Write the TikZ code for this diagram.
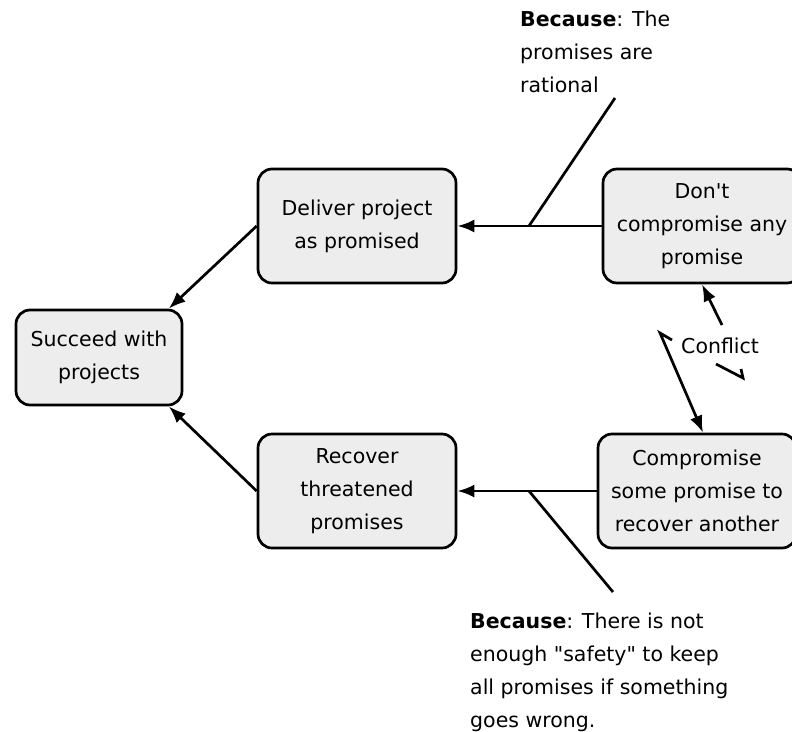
\documentclass[tikz,border=0pt]{standalone}
\usepackage{fontspec}
\setmainfont{DejaVu Sans}
\usetikzlibrary{arrows.meta,positioning}

\begin{document}
\begin{tikzpicture}[x=1pt,y=-1pt,
    box/.style={draw,line width=2.7pt,rounded corners=14pt,fill=black!7,align=center,
        minimum width=198pt,minimum height=114pt,font=\fontsize{20.5}{33}\selectfont},
    arrow/.style={line width=2.7pt,-{Latex[length=17pt,width=13pt]}},
    link/.style={line width=2.7pt},
    note/.style={align=left,inner sep=0pt,font=\fontsize{20.5}{33}\selectfont}]
        \useasboundingbox (0,0) rectangle (792,731);

        \node[box,minimum width=166pt,minimum height=95pt] (succeed) at (99,357.5) {Succeed with\\projects};
        \node[box] (deliver) at (357,226) {Deliver project\\as promised};
        \node[box] (recover) at (357,491) {Recover\\threatened\\promises};
        \node[box] (dont) at (702,226) {Don\textquotesingle t\\compromise any\\promise};
        \node[box] (compromise) at (697,491) {Compromise\\some promise to\\recover another};

        \foreach \from/\to in {deliver.west/succeed.35,recover.west/succeed.-35,dont.west/deliver.east,compromise.west/recover.east}
        \draw[arrow] (\from)--(\to);

        % because notes
        \node[note,anchor=base west] (notetop) at (520,92) {\textbf{Because}: The\\promises are\\rational};
        \node[note,anchor=base west] (notebottom) at (470,727) {\textbf{Because}: There is not\\enough \textquotedbl safety\textquotedbl{} to keep\\all promises if something\\goes wrong.};
        \coordinate (linktop) at (529,226);
        \coordinate (endtop) at (615,98);
        \coordinate (linkbottom) at (529,491);
        \coordinate (endbottom) at (613,592);
        \draw[link] (linktop)--(endtop);
        \draw[link] (linkbottom)--(endbottom);

        % conflict
        \node[note,anchor=west] (conflict) at (681,346) {Conflict};
        \coordinate (boltup) at (722,325);
        \coordinate (boltleft) at (660,333);
        \coordinate (boltkink) at (672,340);
        \draw[arrow] (boltup)--(dont.south);
        \draw[arrow] (boltkink)--(boltleft)--([xshift=6pt]compromise.north);
        \draw[link] (716,364)--(743,378)--(741,369);
      \end{tikzpicture}
\end{document}
